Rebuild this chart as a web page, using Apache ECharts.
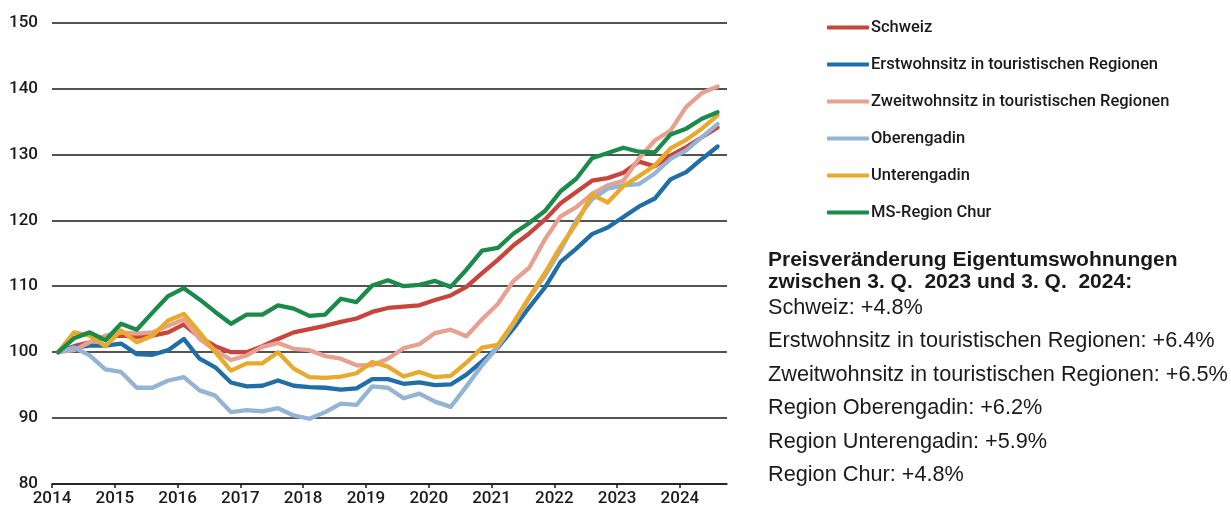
<!DOCTYPE html>
<html>
<head>
<meta charset="utf-8">
<script src="https://cdn.jsdelivr.net/npm/echarts@6/dist/echarts.min.js"></script>
<style>
  html, body { margin: 0; padding: 0; background: #fff; }
  #chart { width: 1231px; height: 511px; }
</style>
</head>
<body>
<div id="chart"></div>
<script>
// quarterly index values, Q1 2014 = 100, up to Q3 2024
const schweiz = [100, 100.9, 101.5, 102.3, 102.5, 102.3, 102.5, 103, 104.2, 102.3, 100.9, 100, 100, 100.9, 102, 103, 103.5, 104, 104.6, 105.1, 106.1, 106.7, 106.9, 107.1, 107.9, 108.6, 109.9, 112, 114, 116.2, 118, 120.1, 122.6, 124.3, 126, 126.4, 127.2, 128.9, 128.2, 129.8, 131.1, 132.6, 134.1];
const erstwohnsitz = [100, 100.7, 101, 101, 101.3, 99.7, 99.6, 100.3, 102, 99, 97.7, 95.4, 94.8, 94.9, 95.7, 94.9, 94.7, 94.6, 94.3, 94.5, 95.9, 95.9, 95.2, 95.4, 95, 95.1, 96.6, 98.6, 100.7, 103.6, 106.8, 109.8, 113.7, 115.7, 117.9, 118.9, 120.5, 122.1, 123.3, 126.2, 127.3, 129.3, 131.2];
const zweitwohnsitz = [100, 100.3, 101.5, 102.5, 103, 102.8, 103, 104, 105, 102, 100.3, 98.8, 99.5, 100.8, 101.4, 100.5, 100.3, 99.4, 99, 98, 98, 99, 100.6, 101.2, 102.9, 103.4, 102.4, 105, 107.3, 110.8, 112.8, 117.1, 120.6, 122, 124, 125.3, 126, 129.4, 132.1, 133.6, 137.2, 139.3, 140.3];
const oberengadin = [100, 100.7, 99.5, 97.4, 97, 94.6, 94.6, 95.7, 96.2, 94.2, 93.4, 90.9, 91.2, 91, 91.5, 90.4, 89.9, 90.9, 92.2, 92, 94.8, 94.6, 93, 93.7, 92.5, 91.7, 94.8, 98, 100.8, 104.3, 108.2, 111.6, 115.5, 120, 123.2, 124.8, 125.3, 125.5, 127.1, 129.3, 130.6, 132.6, 134.6];
const unterengadin = [100, 103, 102.5, 100.9, 103.3, 101.5, 102.5, 104.8, 105.8, 103, 100, 97.2, 98.3, 98.3, 100, 97.5, 96.2, 96.1, 96.3, 96.8, 98.5, 97.8, 96.3, 97, 96.2, 96.4, 98.4, 100.7, 101.1, 104.5, 108.3, 112, 116, 119.5, 123.9, 122.7, 125.2, 126.7, 128.3, 130.9, 132.2, 133.9, 135.9];
const chur = [100, 102.1, 103, 101.8, 104.3, 103.4, 106, 108.5, 109.7, 108, 106.1, 104.3, 105.7, 105.7, 107.1, 106.6, 105.5, 105.7, 108.1, 107.6, 110.1, 110.9, 110, 110.2, 110.8, 109.9, 112.5, 115.4, 115.8, 118, 119.6, 121.4, 124.4, 126.3, 129.4, 130.2, 131, 130.4, 130.3, 133, 133.9, 135.4, 136.4];

const years = [2014, 2015, 2016, 2017, 2018, 2019, 2020, 2021, 2022, 2023, 2024];
const yTicks = [80, 90, 100, 110, 120, 130, 140, 150];

const seriesNames = ["Schweiz", "Erstwohnsitz in touristischen Regionen", "Zweitwohnsitz in touristischen Regionen", "Oberengadin", "Unterengadin", "MS-Region Chur"];
const seriesColors = ["#c9443a", "#1f6ea8", "#e6a190", "#94b4d6", "#e9aa2c", "#1b8b4a"];

const summaryTitle = ["Preisveränderung Eigentumswohnungen", "zwischen 3. Q.  2023 und 3. Q.  2024:"];
const summaryLines = [
  "Schweiz: +4.8%",
  "Erstwohnsitz in touristischen Regionen: +6.4%",
  "Zweitwohnsitz in touristischen Regionen: +6.5%",
  "Region Oberengadin: +6.2%",
  "Region Unterengadin: +5.9%",
  "Region Chur: +4.8%"
];

const condensed = 'Roboto, "Liberation Sans", sans-serif';
const sans = '"Liberation Sans", Arial, sans-serif';
const ink = "#1a1a1a";

// each value sits in its quarter, a little after the year tick
function toPoints(values) {
  return values.map((v, i) => [years[0] + 0.1 + i * 0.25, v]);
}

const allSeries = [schweiz, erstwohnsitz, zweitwohnsitz, oberengadin, unterengadin, chur];

let chart = echarts.init(document.getElementById("chart"));

let graphics = [];
summaryTitle.forEach((t, i) => {
  graphics.push({
    type: "text",
    x: 768,
    y: 260 + i * 22.5,
    style: { text: t, fill: ink, font: "bold 21px " + sans, verticalAlign: "middle" }
  });
});
summaryLines.forEach((t, i) => {
  graphics.push({
    type: "text",
    x: 768,
    y: 308 + i * 33.4,
    style: { text: t, fill: ink, font: "21.7px " + sans, verticalAlign: "middle" }
  });
});

let option = {
  animation: false,
  backgroundColor: "#fff",
  grid: { left: 52, right: 504, top: 22.5, bottom: 27 },
  legend: {
    orient: "vertical",
    left: 827,
    top: 17.5,
    padding: 0,
    itemWidth: 42,
    itemHeight: 4,
    itemGap: 17,
    icon: "roundRect",
    textStyle: { fontFamily: condensed, fontSize: 16.5, fontWeight: 500, color: ink, lineHeight: 20, padding: [0, 0, 0, -3] },
    data: seriesNames
  },
  xAxis: {
    type: "value",
    min: 2014,
    max: 2024.75,
    interval: 1,
    axisLine: { show: true, lineStyle: { color: ink, width: 1.5 } },
    axisTick: { show: true, length: 4, customValues: years, lineStyle: { color: ink, width: 1.5 } },
    axisLabel: {
      customValues: years,
      formatter: (v) => String(v),
      margin: 6,
      color: ink,
      fontFamily: condensed,
      fontWeight: 500,
      fontSize: 17
    },
    splitLine: { show: false }
  },
  yAxis: {
    type: "value",
    min: yTicks[0],
    max: yTicks[yTicks.length - 1],
    interval: 10,
    axisLine: { show: false },
    axisTick: { show: false },
    axisLabel: { margin: 14, color: ink, fontFamily: condensed, fontWeight: 500, fontSize: 17 },
    splitLine: { lineStyle: { color: ink, width: 1.5 } }
  },
  graphic: graphics,
  series: allSeries.map((vals, k) => ({
    name: seriesNames[k],
    type: "line",
    symbol: "none",
    color: seriesColors[k],
    lineStyle: { width: 4.3, color: seriesColors[k], join: "round", cap: "round" },
    data: toPoints(vals)
  }))
};

chart.setOption(option);
</script>
</body>
</html>
